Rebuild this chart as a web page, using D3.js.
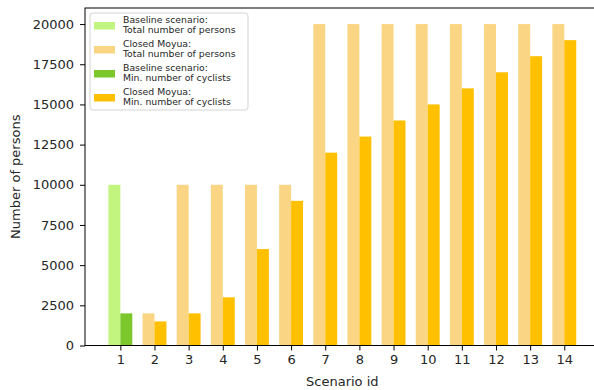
<!DOCTYPE html>
<html>
<head>
<meta charset="utf-8">
<script src="https://cdn.jsdelivr.net/npm/d3@7"></script>
<style>
  body { margin: 0; background: #fff; }
  svg { display: block; font-family: "DejaVu Sans", sans-serif; }
</style>
</head>
<body>
<div id="chart"></div>
<script>
// scenario data
const scenarioIds = [1, 2, 3, 4, 5, 6, 7, 8, 9, 10, 11, 12, 13, 14];
const scenarioType = ["baseline", "closed", "closed", "closed", "closed", "closed", "closed",
    "closed", "closed", "closed", "closed", "closed", "closed", "closed"];
const totalPersons = [10000, 2000, 10000, 10000, 10000, 10000, 20000, 20000, 20000, 20000, 20000, 20000, 20000, 20000];
const minCyclists = [2000, 1500, 2000, 3000, 6000, 9000, 12000, 13000, 14000, 15000, 16000, 17000, 18000, 19000];
const yTicks = [0, 2500, 5000, 7500, 10000, 12500, 15000, 17500, 20000];

const legendItems = [
    { lines: ["Baseline scenario:", "Total number of persons"], color: "#c1f57f" },
    { lines: ["Closed Moyua:", "Total number of persons"], color: "#fad684" },
    { lines: ["Baseline scenario:", "Min. number of cyclists"], color: "#7cc82c" },
    { lines: ["Closed Moyua:", "Min. number of cyclists"], color: "#ffc000" }
];

const colors = {
    baseline: { total: "#c1f57f", min: "#7cc82c" },
    closed: { total: "#fad684", min: "#ffc000" }
};

const width = 594, height = 390;
const margin = { top: 8, left: 85, bottom: 44.5 };
const barWidth = 0.35;

const svg = d3.select("#chart").append("svg")
    .attr("width", width)
    .attr("height", height);

const x = d3.scaleLinear()
    .domain([-0.035, 15.035])
    .range([margin.left, margin.left + 15.07 * 34.15]);

const y = d3.scaleLinear()
    .domain([0, 21000])
    .range([height - margin.bottom, margin.top]);

const rows = scenarioIds.map((id, i) => ({
    id: id, type: scenarioType[i], total: totalPersons[i], min: minCyclists[i]
}));

// total bars left of the tick, min cyclists right of it
svg.append("g").selectAll("rect")
    .data(rows)
    .enter().append("rect")
    .attr("x", d => x(d.id - barWidth))
    .attr("y", d => y(d.total))
    .attr("width", d => x(d.id) - x(d.id - barWidth))
    .attr("height", d => y(0) - y(d.total))
    .style("fill", d => colors[d.type].total);

svg.append("g").selectAll("rect")
    .data(rows)
    .enter().append("rect")
    .attr("x", d => x(d.id))
    .attr("y", d => y(d.min))
    .attr("width", d => x(d.id + barWidth) - x(d.id))
    .attr("height", d => y(0) - y(d.min))
    .style("fill", d => colors[d.type].min);

// axes
const xAxis = svg.append("g")
    .attr("transform", `translate(0, ${y(0)})`)
    .call(d3.axisBottom(x).tickValues(scenarioIds).tickFormat(d3.format("d")).tickSize(5).tickPadding(4));

const yAxis = svg.append("g")
    .attr("transform", `translate(${x.range()[0]}, 0)`)
    .call(d3.axisLeft(y).tickValues(yTicks).tickFormat(d3.format("d")).tickSize(5).tickPadding(6));

[xAxis, yAxis].forEach(g => {
    g.select(".domain").remove();
    g.selectAll("line").attr("stroke", "#000").attr("stroke-width", 1);
    g.selectAll("text").style("font-size", "13px").style("fill", "#262626")
        .style("font-family", "'DejaVu Sans', sans-serif");
});

// spines
svg.append("rect")
    .attr("x", x.range()[0])
    .attr("y", y.range()[1])
    .attr("width", x.range()[1] - x.range()[0])
    .attr("height", y.range()[0] - y.range()[1])
    .style("fill", "none")
    .style("stroke", "#000")
    .style("stroke-width", 1);

svg.append("text")
    .attr("x", (x.range()[0] + x.range()[1]) / 2)
    .attr("y", 386)
    .attr("text-anchor", "middle")
    .style("font-size", "13px")
    .style("fill", "#262626")
    .text("Scenario id");

svg.append("text")
    .attr("transform", `translate(20, ${(y.range()[0] + y.range()[1]) / 2}) rotate(-90)`)
    .attr("text-anchor", "middle")
    .style("font-size", "13px")
    .style("fill", "#262626")
    .text("Number of persons");

// legend
const legend = svg.append("g").attr("transform", "translate(90, 13)");
legend.append("rect")
    .attr("width", 158)
    .attr("height", 97)
    .attr("rx", 3)
    .style("fill", "#fff")
    .style("fill-opacity", 0.8)
    .style("stroke", "#d5d5d5");

const entry = legend.selectAll(".entry")
    .data(legendItems)
    .enter().append("g")
    .attr("class", "entry")
    .attr("transform", (d, i) => `translate(0, ${i * 24})`);

entry.append("rect")
    .attr("x", 4)
    .attr("y", 9)
    .attr("width", 21)
    .attr("height", 7.5)
    .style("fill", d => d.color);

entry.append("text")
    .attr("x", 33)
    .attr("y", 9.5)
    .style("font-size", "9.3px")
    .style("fill", "#262626")
    .selectAll("tspan")
    .data(d => d.lines)
    .enter().append("tspan")
    .attr("x", 33)
    .attr("dy", (d, i) => i === 0 ? 0 : 10.6)
    .text(d => d);
</script>
</body>
</html>
